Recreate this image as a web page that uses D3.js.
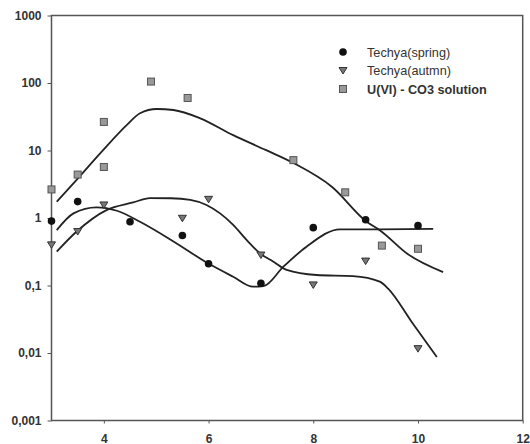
<!DOCTYPE html>
<meta charset="utf-8">
<html>
<head>
<script src="https://d3js.org/d3.v7.min.js"></script>
<style>
  body { margin: 0; background: #fff; }
  text { font-family: "Liberation Sans", Arial, sans-serif; }
  .tick text { font-size: 12px; font-weight: bold; fill: #333; }
  .legend text { font-size: 12.7px; fill: #333; }
</style>
</head>
<body>
<svg width="530" height="444"></svg>
<script>
//___________________________________DATA_______________________________________________________
var springX = [3, 3.5, 4.5, 5.5, 6, 7, 8, 9, 10];
var springY = [0.9, 1.75, 0.88, 0.55, 0.21, 0.108, 0.72, 0.94, 0.77];

var autumnX = [3, 3.5, 4, 5.5, 6, 7, 8, 9, 10];
var autumnY = [0.4, 0.63, 1.56, 0.99, 1.89, 0.283, 0.102, 0.23, 0.0116];

var uranX = [3, 3.5, 4, 4, 4.9, 5.6, 7.62, 8.61, 9.31, 10];
var uranY = [2.65, 4.4, 26.5, 5.7, 105, 60, 7.2, 2.4, 0.39, 0.35];

// fitted curves
var springFitX = [3.1, 3.42, 3.86, 4.25, 4.69, 5.33, 5.99, 6.47, 6.85, 7.05, 7.43, 7.87, 8.51, 9.27, 10.29];
var springFitY = [0.66, 1.17, 1.44, 1.28, 0.88, 0.45, 0.213, 0.135, 0.096, 0.098, 0.19, 0.376, 0.68, 0.68, 0.69];

var autumnFitX = [3.1, 3.48, 4.05, 4.56, 4.88, 5.28, 5.65, 5.96, 6.22, 6.47, 6.73, 6.98, 7.24, 7.49, 8.06, 8.76, 9.27, 9.43, 9.88, 10.36];
var autumnFitY = [0.317, 0.63, 1.31, 1.7, 1.97, 1.96, 1.85, 1.56, 1.17, 0.79, 0.47, 0.3, 0.225, 0.17, 0.143, 0.138, 0.114, 0.09, 0.0288, 0.0087];

var uranFitX = [3.1, 3.51, 3.99, 4.44, 4.69, 5.01, 5.33, 5.84, 6.47, 7.09, 7.62, 8.36, 9.02, 9.27, 9.81, 10.48];
var uranFitY = [1.74, 3.91, 10.2, 23.9, 35.6, 41.2, 39.8, 30.0, 16.9, 10.2, 6.53, 2.88, 0.88, 0.66, 0.29, 0.158];

var yTicks = [0.001, 0.01, 0.1, 1, 10, 100, 1000];
var xTicks = [4, 6, 8, 10, 12];
var legendLabels = ["Techya(spring)", "Techya(autmn)", "U(VI) - CO3 solution"];

//___________________________________SCALES_______________________________________________________
var svg = d3.select("svg");
var plotL = 51.5, plotR = 522.7, plotT = 15.5, plotB = 420.5;

var x = d3.scaleLinear().domain([3, 12]).range([plotL, plotR]);
var y = d3.scaleLog().domain([0.001, 1000]).range([plotB, plotT]);

function pairs(xs, ys) { return xs.map(function(v, i) { return [v, ys[i]]; }); }

//___________________________________AXES_______________________________________________________
svg.append("g")
    .attr("transform", "translate(" + plotL + ",0)")
    .call(d3.axisLeft(y).tickValues(yTicks).tickSize(4).tickPadding(6)
        .tickFormat(function(d) { return String(d).replace(".", ","); }))
    .call(function(g) { g.select(".domain").remove(); g.selectAll("line").attr("stroke", "#555"); });

svg.append("g")
    .attr("transform", "translate(0," + plotB + ")")
    .call(d3.axisBottom(x).tickValues(xTicks).tickSize(3).tickPadding(10.5)
        .tickFormat(d3.format("d")))
    .call(function(g) { g.select(".domain").remove(); g.selectAll("line").attr("stroke", "#555"); });

svg.append("rect")
    .attr("x", plotL).attr("y", plotT)
    .attr("width", plotR - plotL).attr("height", plotB - plotT)
    .attr("fill", "none").attr("stroke", "#555").attr("stroke-width", 1.5);

//___________________________________CURVES_______________________________________________________
var line = d3.line()
    .x(function(d) { return x(d[0]); })
    .y(function(d) { return y(d[1]); })
    .curve(d3.curveMonotoneX);

[pairs(springFitX, springFitY), pairs(autumnFitX, autumnFitY), pairs(uranFitX, uranFitY)]
  .forEach(function(c) {
    svg.append("path").datum(c)
        .attr("d", line)
        .attr("fill", "none")
        .attr("stroke", "#222")
        .attr("stroke-width", 1.8);
  });

//___________________________________MARKERS_______________________________________________________
function circleMark(g) { g.append("circle").attr("r", 3.8).attr("fill", "#111"); }
function triMark(g) {
  g.append("path").attr("d", "M-4,-3L4,-3L0,3.5Z")
      .attr("fill", "#777").attr("stroke", "#333").attr("stroke-width", 1);
}
function squareMark(g) {
  g.append("rect").attr("x", -3.5).attr("y", -3.5).attr("width", 7).attr("height", 7)
      .attr("fill", "#999").attr("stroke", "#555").attr("stroke-width", 1);
}

function drawPoints(xs, ys, mark) {
  svg.append("g").selectAll("g")
    .data(pairs(xs, ys))
    .enter().append("g")
      .attr("transform", function(d) { return "translate(" + x(d[0]) + "," + y(d[1]) + ")"; })
      .each(function() { mark(d3.select(this)); });
}

drawPoints(uranX, uranY, squareMark);
drawPoints(autumnX, autumnY, triMark);
drawPoints(springX, springY, circleMark);

//___________________________________LEGEND_______________________________________________________
var marks = [circleMark, triMark, squareMark];
var legend = svg.append("g").attr("class", "legend");
legendLabels.forEach(function(lbl, i) {
  var row = legend.append("g").attr("transform", "translate(343," + (52 + i * 18.5) + ")");
  marks[i](row);
  row.append("text").attr("x", 24).attr("y", 4.5)
      .style("font-weight", i == 2 ? "bold" : "normal")
      .text(lbl);
});
</script>
</body>
</html>
